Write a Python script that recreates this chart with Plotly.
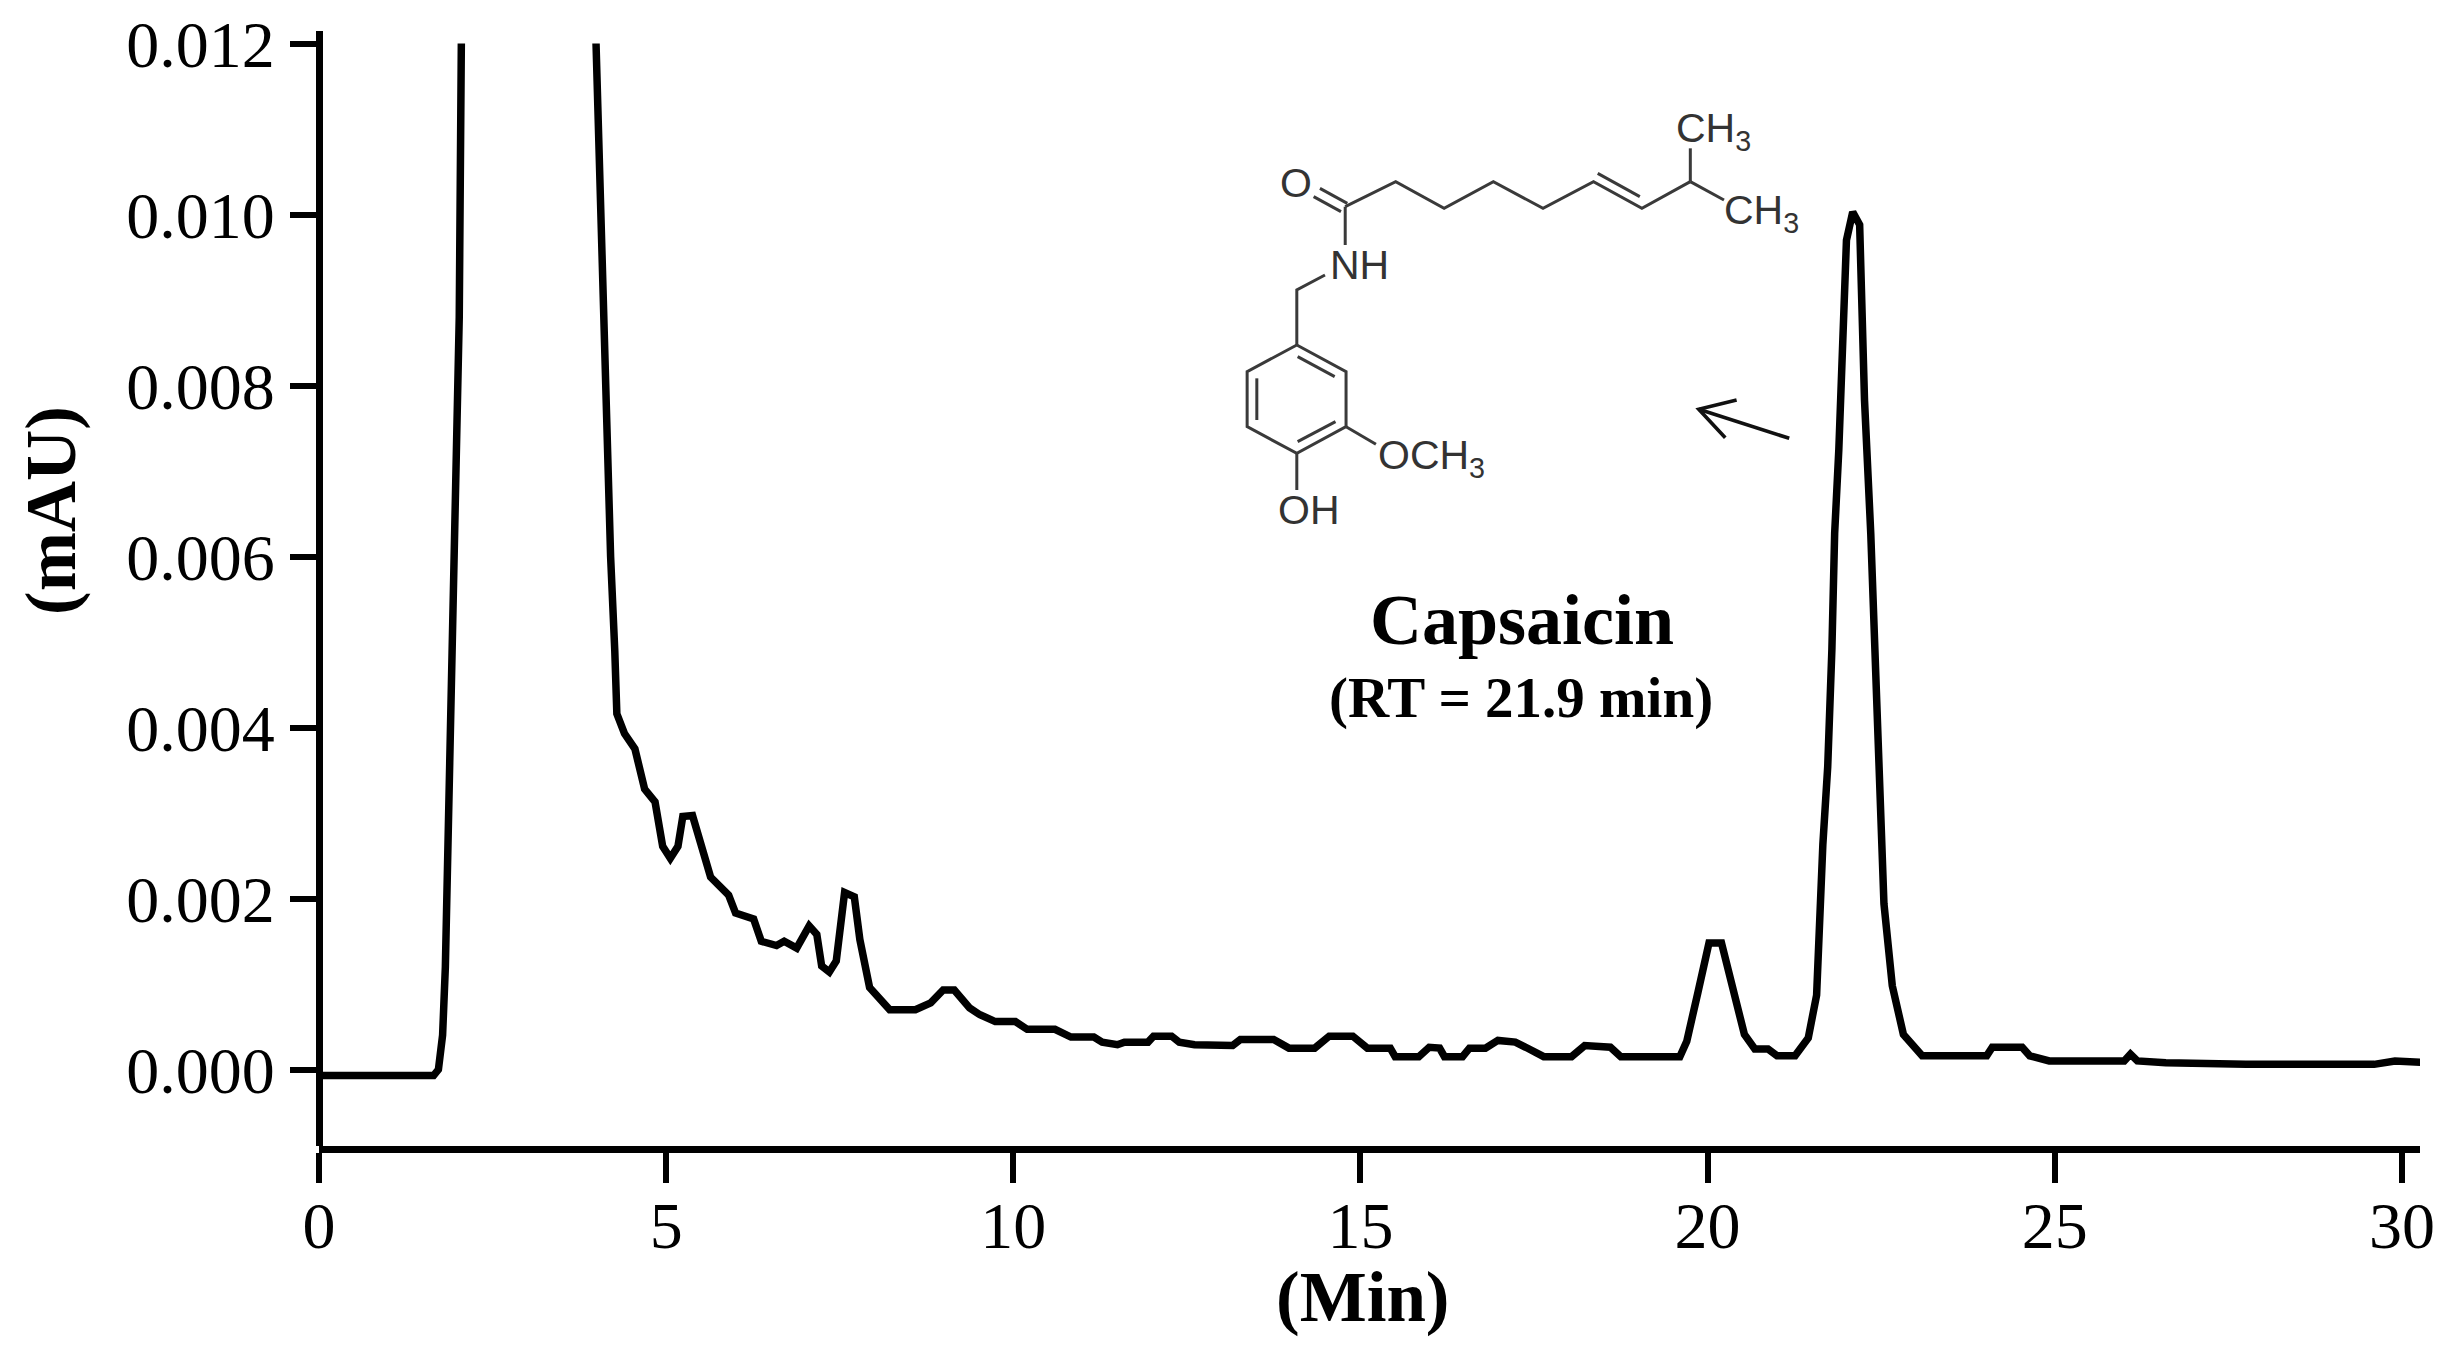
import plotly.graph_objects as go

# ---- chromatogram ----
time_min = [0, 1.65, 1.72, 1.78, 1.82, 1.86, 1.91, 1.97, 2.02, 2.05, None,
            3.99, 4.03, 4.07, 4.10, 4.14, 4.20, 4.26, 4.29, 4.40, 4.55, 4.69, 4.84, 4.95, 5.06, 5.17, 5.24, 5.38,
            5.50, 5.64, 5.90, 6.00, 6.26, 6.37, 6.59, 6.70, 6.88, 7.06, 7.17, 7.24, 7.35, 7.45, 7.57, 7.71, 7.79,
            7.93, 8.22, 8.59, 8.81, 8.99, 9.15, 9.37, 9.52, 9.74, 10.03, 10.2, 10.6, 10.83, 11.16, 11.28, 11.5,
            11.6, 11.94, 12.02, 12.28, 12.39, 12.61, 12.83, 13.16, 13.27, 13.75, 13.97, 14.34, 14.55, 14.89, 15.1,
            15.43, 15.5, 15.84, 15.99, 16.14, 16.21, 16.47, 16.57, 16.8, 16.98, 17.23, 17.38, 17.64, 18.04, 18.23,
            18.6, 18.75, 19.6, 19.7, 19.86, 20.02, 20.2, 20.37, 20.53, 20.68, 20.87, 21.0, 21.26, 21.45, 21.57,
            21.66, 21.73, 21.79, 21.83, 21.89, 21.95, 22.0, 22.09, 22.19, 22.22, 22.26, 22.35, 22.41, 22.48, 22.52,
            22.54, 22.66, 22.82, 23.09, 24.02, 24.1, 24.53, 24.64, 24.92, 26.0, 26.09, 26.19, 26.6, 27.75, 29.6,
            29.9, 30.4]
signal_mau = [-0.00007, -0.00007, 0.0, 0.0004, 0.0012, 0.0028, 0.0049, 0.0072, 0.0088, 0.012, None,
              0.012, 0.0108, 0.010, 0.009, 0.008, 0.006, 0.0049, 0.00416, 0.00393, 0.00375, 0.00328, 0.00313, 0.00261,
              0.00247, 0.00261, 0.00296, 0.00297, 0.00261, 0.00225, 0.00204, 0.00183, 0.00176, 0.0015, 0.00145,
              0.0015, 0.00142, 0.00168, 0.00158, 0.00121, 0.00114, 0.00127, 0.00207, 0.00202, 0.00152, 0.00096,
              0.0007, 0.0007, 0.00078, 0.00093, 0.00093, 0.00072, 0.00064, 0.00056, 0.00056, 0.00047, 0.00047,
              0.00038, 0.00038, 0.00032, 0.00029, 0.00032, 0.00032, 0.00039, 0.00039, 0.00032, 0.00029, 0.00029,
              0.00028, 0.00035, 0.00035, 0.00025, 0.00025, 0.00039, 0.00039, 0.00025, 0.00025, 0.00015, 0.00015,
              0.00026, 0.00025, 0.00015, 0.00015, 0.00025, 0.00025, 0.00034, 0.00032, 0.00026, 0.00015, 0.00015,
              0.00028, 0.00026, 0.00015, 0.00015, 0.00033, 0.0009, 0.00148, 0.00148, 0.0009, 0.00041, 0.00024,
              0.00024, 0.00016, 0.00016, 0.00037, 0.00087, 0.00263, 0.00354, 0.00491, 0.00627, 0.00725, 0.00873,
              0.0097, 0.01003, 0.00988, 0.009, 0.00783, 0.00627, 0.00491, 0.00354, 0.00263, 0.00194, 0.00098,
              0.00041, 0.00016, 0.00016, 0.00026, 0.00026, 0.00016, 0.0001, 0.0001, 0.00018, 0.0001, 0.00008,
              0.00006, 0.00006, 0.0001, 0.00008]

x_ticks = [0, 5, 10, 15, 20, 25, 30]
y_ticks = [0.0, 0.002, 0.004, 0.006, 0.008, 0.010, 0.012]
y_labels = ["0.000", "0.002", "0.004", "0.006", "0.008", "0.010", "0.012"]

# ---- frame (pixels of the 2445x1346 page; the page body adds an 8 px margin) ----
BODY = 8
W, H = 2445 - 2 * BODY, 1346 - 2 * BODY
L, R, T, B = 319, 2420, 31, 1146
PW, PH = R - L, B - T
SERIF = "Liberation Serif"
SANS = "Liberation Sans"
AXW = 7


def px(X):
    return (X - L) / PW


def py(Y):
    return (B - Y) / PH


def zx(a):
    return 1200 + a / 2.376


def zy(b):
    return 60 + b / 3


# ---- capsaicin structure: decorative drawing, in crop coordinates ----
bond_paths = [
    [(285, 385), (350, 430)],
    [(270, 410), (335, 455)],
    [(345, 440), (465, 365), (580, 445), (697, 365), (815, 445), (935, 365), (1050, 445), (1165, 365)],
    [(945, 340), (1045, 410)],
    [(1165, 365), (1165, 265)],
    [(1165, 365), (1245, 420)],
    [(345, 440), (345, 555)],
    [(297, 645), (230, 690), (230, 855)],
    [(230, 855), (347, 935), (347, 1100), (230, 1180), (112, 1100), (112, 935), (230, 855)],
    [(232, 890), (320, 950)],
    [(135, 955), (135, 1080)],
    [(232, 1145), (322, 1085)],
    [(347, 1100), (418, 1153)],
    [(230, 1180), (230, 1290)],
]
arrow_paths = [
    [(1400, 1135), (1185, 1048)],
    [(1275, 1020), (1185, 1048), (1248, 1133)],
]
atom_labels = [
    ("O", 228, 368), ("NH", 380, 615), ("CH<sub>3</sub>", 1220, 212), ("CH<sub>3</sub>", 1335, 458),
    ("OCH<sub>3</sub>", 550, 1195), ("OH", 260, 1350),
]

fig = go.Figure(go.Scatter(
    x=time_min, y=signal_mau, mode="lines", cliponaxis=False,
    line=dict(color="black", width=7.5), connectgaps=False, hoverinfo="skip", showlegend=False,
))

shapes = []
for group, colour, width in ((bond_paths, "#3a3a3a", 3), (arrow_paths, "#111111", 3.6)):
    for path in group:
        d = "M " + " L ".join(f"{px(zx(a)):.5f} {py(zy(b)):.5f}" for a, b in path)
        shapes.append(dict(type="path", xref="paper", yref="paper", path=d,
                           line=dict(color=colour, width=width), fillcolor="rgba(0,0,0,0)"))

annotations = []
for text, a, b in atom_labels:
    annotations.append(dict(text=text, x=px(zx(a)), y=py(zy(b)), xref="paper", yref="paper", showarrow=False,
                            xanchor="center", yanchor="middle", font=dict(family=SANS, size=41, color="#333333")))


def note(text, X, Y, size, angle=0):
    annotations.append(dict(text=text, x=px(X), y=py(Y), xref="paper", yref="paper", showarrow=False,
                            xanchor="center", yanchor="middle", textangle=angle,
                            font=dict(family=SERIF, size=size, color="black")))


note("<b>Capsaicin</b>", 1522, 620, 72)
note("<b>(RT = 21.9 min)</b>", 1521, 698, 57)
note("<b>(Min)</b>", 1363, 1297, 71)
note("<b>(mAU)</b>", 51, 511, 71, angle=-90)

fig.update_layout(
    width=W, height=H, autosize=False,
    margin=dict(l=L - BODY, r=W - (R - BODY), t=T - BODY, b=H - (B - BODY), pad=0, autoexpand=False),
    paper_bgcolor="white", plot_bgcolor="white",
    shapes=shapes, annotations=annotations, showlegend=False,
    xaxis=dict(range=[0, (R - L) / 69.43], tickmode="array", tickvals=x_ticks, ticktext=[str(v) for v in x_ticks],
               showgrid=False, zeroline=False, showline=True, linecolor="black", linewidth=AXW,
               ticks="outside", ticklen=30, tickwidth=6, tickcolor="black", automargin=False,
               ticklabeloverflow="allow",
               tickfont=dict(family=SERIF, size=66, color="black"), ticklabelstandoff=-14),
    yaxis=dict(range=[(1069.5 - B) / 85500, (1069.5 - T) / 85500], tickmode="array", tickvals=y_ticks,
               ticktext=y_labels, showgrid=False, zeroline=False, showline=True, linecolor="black", linewidth=AXW,
               anchor="free", position=0, automargin=False,
               ticklabeloverflow="allow",
               ticks="outside", ticklen=26, tickwidth=6, tickcolor="black",
               tickfont=dict(family=SERIF, size=66, color="black"), ticklabelstandoff=2),
)

fig.write_html("out.html")
